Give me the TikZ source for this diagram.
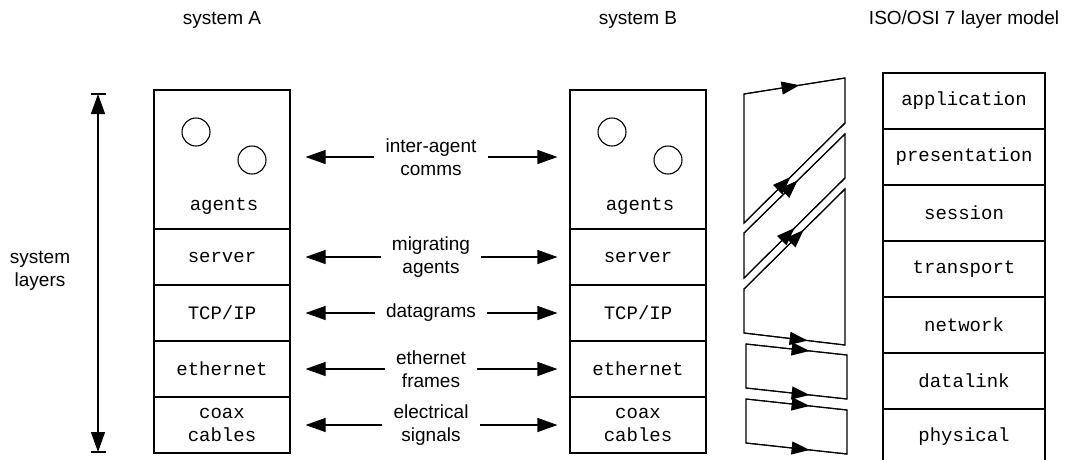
\documentclass[tikz,border=0pt]{standalone}
\usepackage{fontspec}
\setmainfont{Liberation Sans}
\setmonofont{Liberation Mono}
\usetikzlibrary{arrows.meta,decorations.markings}

\newcommand{\sysfont}{\fontsize{19}{23}\selectfont}

\tikzset{
  layer/.style={draw, line width=1.1pt, minimum width=136pt, minimum height=56pt, inner sep=0pt, font=\ttfamily\sysfont, align=center},
  isolayer/.style={layer, minimum width=162pt},
  agent/.style={draw, circle, line width=1.1pt, minimum size=28pt, inner sep=0pt},
  comm/.style={font=\sysfont, align=center, inner xsep=11pt},
  head/.style={-{Triangle[length=20pt,width=14pt]}, line width=1.1pt},
  flow/.style={line width=1.1pt, postaction={decorate}, decoration={markings, mark=at position #1 with {\arrow{Triangle[length=18pt,width=13pt]}}}},
  flow/.default=0.6
}

\begin{document}
\begin{tikzpicture}[x=1pt, y=-1pt]
\useasboundingbox (0,0) rectangle (1065,459);

% headings
\node[font=\sysfont] (hA) at (222,20) {system A};
\node[font=\sysfont] (hB) at (638,20) {system B};
\node[font=\sysfont] (hI) at (964,20) {ISO/OSI 7 layer model};

% system A
\node[layer, minimum height=139pt] (a1) at (222,159.5) {};
\node[font=\ttfamily\sysfont] (a1t) at (224,206) {agents};
\node[agent] (a1p) at (196,132) {};
\node[agent] (a1q) at (252,160) {};
\node[layer] (a2) at (222,257) {server};
\node[layer] (a3) at (222,313) {TCP/IP};
\node[layer] (a4) at (222,369) {ethernet};
\node[layer] (a5) at (222,425) {coax\\cables};

% system B
\node[layer, minimum height=139pt] (b1) at (638,159.5) {};
\node[font=\ttfamily\sysfont] (b1t) at (640,206) {agents};
\node[agent] (b1p) at (612,132) {};
\node[agent] (b1q) at (668,160) {};
\node[layer] (b2) at (638,257) {server};
\node[layer] (b3) at (638,313) {TCP/IP};
\node[layer] (b4) at (638,369) {ethernet};
\node[layer] (b5) at (638,425) {coax\\cables};

% ISO/OSI model
\node[isolayer] (i1) at (964,101) {application};
\node[isolayer] (i2) at (964,157) {presentation};
\node[isolayer] (i3) at (964,213) {session};
\node[isolayer] (i4) at (964,269) {transport};
\node[isolayer] (i5) at (964,325) {network};
\node[isolayer] (i6) at (964,381) {datalink};
\node[isolayer] (i7) at (964,437) {physical};

% communication between the systems
\node[comm] (c1) at (431,157) {inter-agent\\comms};
\node[comm] (c2) at (431,257) {migrating\\agents};
\node[comm] (c3) at (431,313) {datagrams};
\node[comm] (c4) at (431,369) {ethernet\\frames};
\node[comm] (c5) at (431,425) {electrical\\signals};
\draw[head, shorten >=15pt] (c1) -- (c1 -| a1.east);
\draw[head, shorten >=12pt] (c1) -- (c1 -| b1.west);
\draw[head, shorten >=15pt] (c2) -- (c2 -| a2.east);
\draw[head, shorten >=12pt] (c2) -- (c2 -| b2.west);
\draw[head, shorten >=15pt] (c3) -- (c3 -| a3.east);
\draw[head, shorten >=12pt] (c3) -- (c3 -| b3.west);
\draw[head, shorten >=15pt] (c4) -- (c4 -| a4.east);
\draw[head, shorten >=12pt] (c4) -- (c4 -| b4.west);
\draw[head, shorten >=15pt] (c5) -- (c5 -| a5.east);
\draw[head, shorten >=12pt] (c5) -- (c5 -| b5.west);

% system layers
\coordinate (dtop) at (98,94);
\coordinate (dbot) at (98,452);
\draw[{Triangle[length=20pt,width=14pt]}-{Triangle[length=20pt,width=14pt]}, line width=1.1pt] (dtop) -- (dbot);
\draw[line width=1.1pt] ([xshift=-7.5pt]dtop) -- ([xshift=7.5pt]dtop);
\draw[line width=1.1pt] ([xshift=-7.5pt]dbot) -- ([xshift=7.5pt]dbot);
\node[font=\sysfont, align=center] (lay) at (40,271) {system\\layers};

% mapping onto the 7 layers
\draw[line width=1.1pt] (744,94) -- (845,78) -- (845,123) -- (744,223) -- cycle;
\draw[flow=0.55] (744,94) -- (845,78);
\draw[flow=0.46] (744,223) -- (845,123);
\draw[line width=1.1pt] (744,233) -- (845,134) -- (845,178) -- (744,278) -- cycle;
\draw[flow=0.53] (744,233) -- (845,134);
\draw[flow=0.50] (744,278) -- (845,178);
\draw[line width=1.1pt] (744,289) -- (845,189) -- (845,345) -- (744,333) -- cycle;
\draw[flow=0.59] (744,289) -- (845,189);
\draw[flow=0.63] (744,333) -- (845,345);
\draw[line width=1.1pt] (746,344) -- (847,355) -- (847,399) -- (746,388) -- cycle;
\draw[flow=0.63] (746,344) -- (847,355);
\draw[flow=0.63] (746,388) -- (847,399);
\draw[line width=1.1pt] (746,399) -- (847,410) -- (847,454) -- (746,443) -- cycle;
\draw[flow=0.63] (746,399) -- (847,410);
\draw[flow=0.63] (746,443) -- (847,454);
\end{tikzpicture}
\end{document}
